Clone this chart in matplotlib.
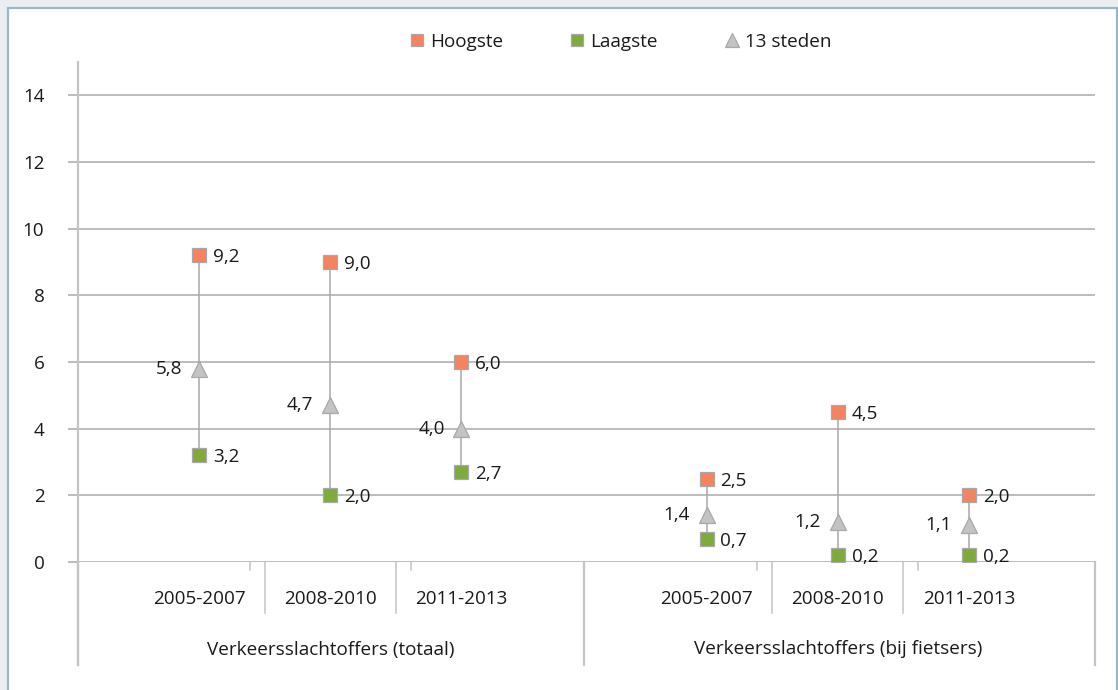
import matplotlib
matplotlib.use("Agg")
import matplotlib.pyplot as plt
from matplotlib.patches import Rectangle
from matplotlib.lines import Line2D

plt.rcParams['font.family'] = ['Open Sans', 'DejaVu Sans']

# ---- data ----
groups = ["Verkeersslachtoffers (totaal)", "Verkeersslachtoffers (bij fietsers)"]
periods = ["2005-2007", "2008-2010", "2011-2013"]
hoogste = [9.2, 9.0, 6.0, 2.5, 4.5, 2.0]
laagste = [3.2, 2.0, 2.7, 0.7, 0.2, 0.2]
steden13 = [5.8, 4.7, 4.0, 1.4, 1.2, 1.1]
series_names = ["Hoogste", "Laagste", "13 steden"]
yticks = [0, 2, 4, 6, 8, 10, 12, 14]

# ---- style ----
C_HIGH = "#f5835f"
C_LOW = "#7eab3c"
C_TRI = "#c3c3c3"
C_EDGE = "#a8a8a8"
C_GRID = "#a9a9a9"
C_AX = "#c4c4c4"
TXT = "#1a1a1a"
FS = 13.6

W, H = 1118, 690
fig = plt.figure(figsize=(W / 100, H / 100), dpi=100, facecolor="#eaeef1")
fig.patches.append(Rectangle((8 / W, -0.05), (1117 - 8) / W, (682 / H) + 0.05,
                             transform=fig.transFigure, facecolor="white",
                             edgecolor="#97b8c4", linewidth=1.6, zorder=-10))

ax = fig.add_axes([78 / W, (H - 562) / H, (1095 - 78) / W, 500 / H])
ax.set_facecolor("none")
ax.set_zorder(1)

gap = 0.87
n = len(periods)
xs = [j + g * (n + gap) for g in range(len(groups)) for j in range(n)]
xlo, xhi = -0.924, xs[-1] + 0.962
ax.set_xlim(xlo, xhi)
ax.set_ylim(0, 15)

# grid
ax.set_yticks(yticks)
ax.set_yticklabels([str(v) for v in yticks], fontsize=FS, color=TXT)
for v in yticks:
    ax.axhline(v, color=C_GRID, lw=1.1, zorder=1)
ax.tick_params(axis='y', length=7.2, width=1.1, color=C_GRID, pad=17)
ax.set_xticks([])
for s in ax.spines.values():
    s.set_visible(False)

# vertical axis line extended below
ax.plot([xlo, xlo], [15, -0.206 * 15], color=C_AX, lw=1.6, clip_on=False, zorder=2)

# category separators and labels
trans = ax.get_xaxis_transform()
for g in range(len(groups)):
    gx = xs[g * n:(g + 1) * n]
    for j in range(n - 1):
        m = (gx[j] + gx[j + 1]) / 2
        ax.plot([m, m], [0, -0.102], color=C_AX, lw=1.1, transform=trans, clip_on=False)
        d = 0.115 if j else -0.115
        ax.plot([m + d, m + d], [0, -0.016], color=C_AX, lw=1.1, transform=trans, clip_on=False)
    for j, p in enumerate(periods):
        ax.text(gx[j], -0.074, p, transform=trans, ha='center', va='center',
                fontsize=FS, color=TXT)
    gcenter = (gx[0] + gx[-1]) / 2
    ax.text(gcenter, -0.175, groups[g], transform=trans, ha='center', va='center',
            fontsize=FS, color=TXT)

bounds = [xlo, (xs[n - 1] + xs[n]) / 2, xhi]
for b in bounds:
    ax.plot([b, b], [0, -0.206], color=C_AX, lw=1.6, transform=trans, clip_on=False)

# high-low lines
ax.vlines(xs, laagste, hoogste, color=C_EDGE, lw=1.1, zorder=3)

ax.plot(xs, hoogste, ls='none', marker='s', ms=9.8, mfc=C_HIGH, mec=C_EDGE, mew=0.9, zorder=5)
ax.plot(xs, laagste, ls='none', marker='s', ms=9.8, mfc=C_LOW, mec=C_EDGE, mew=0.9, zorder=5)
ax.plot(xs, steden13, ls='none', marker='^', ms=11, mfc=C_TRI, mec=C_EDGE, mew=0.9, zorder=5)

def fmt(v):
    return f"{v:.1f}".replace(".", ",")

for x, h, l, m in zip(xs, hoogste, laagste, steden13):
    ax.annotate(fmt(h), (x, h), xytext=(10, -1.5), textcoords='offset points',
                ha='left', va='center', fontsize=FS, color=TXT, zorder=6)
    ax.annotate(fmt(l), (x, l), xytext=(10, -1.5), textcoords='offset points',
                ha='left', va='center', fontsize=FS, color=TXT, zorder=6)
    ax.annotate(fmt(m), (x, m), xytext=(-12, 0), textcoords='offset points',
                ha='right', va='center', fontsize=FS, color=TXT, zorder=6)

handles = [
    Line2D([], [], ls='none', marker='s', ms=9, mfc=C_HIGH, mec=C_EDGE, mew=0.9),
    Line2D([], [], ls='none', marker='s', ms=9, mfc=C_LOW, mec=C_EDGE, mew=0.9),
    Line2D([], [], ls='none', marker='^', ms=10, mfc=C_TRI, mec=C_EDGE, mew=0.9),
]
leg = fig.legend(handles, series_names, loc='center', bbox_to_anchor=(0.555, 1 - 42 / H),
                 ncol=3, frameon=False, fontsize=FS, handlelength=0.8, handletextpad=0.3,
                 columnspacing=3.5)
for t in leg.get_texts():
    t.set_color(TXT)

fig.savefig("out.png", dpi=100, facecolor=fig.get_facecolor())
